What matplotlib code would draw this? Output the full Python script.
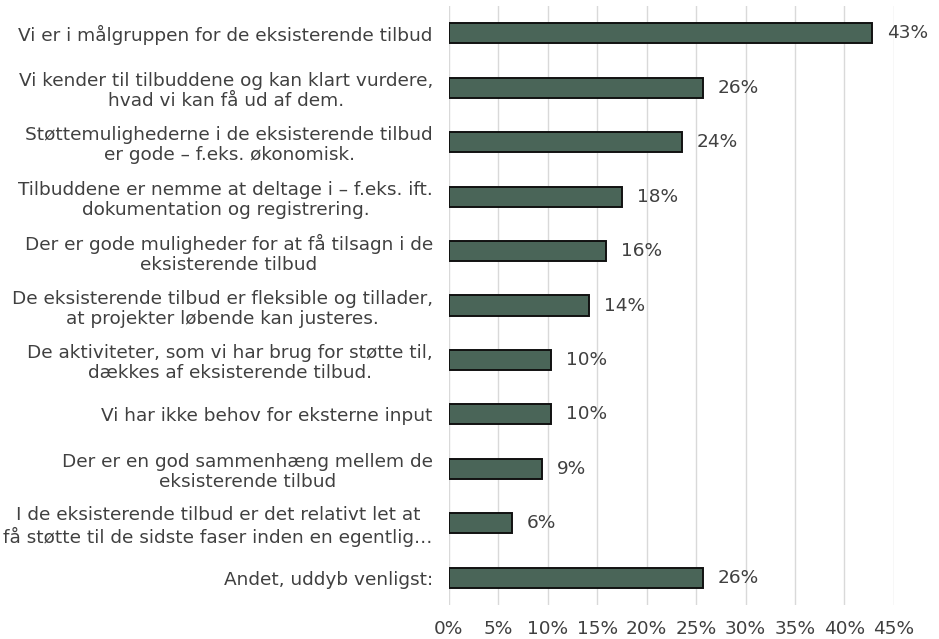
import matplotlib
matplotlib.use("Agg")
import matplotlib.pyplot as plt
from matplotlib.ticker import FuncFormatter, MultipleLocator

categories = [
    "Vi er i målgruppen for de eksisterende tilbud",
    "Vi kender til tilbuddene og kan klart vurdere,\nhvad vi kan få ud af dem.",
    "Støttemulighederne i de eksisterende tilbud\ner gode – f.eks. økonomisk.",
    "Tilbuddene er nemme at deltage i – f.eks. ift.\ndokumentation og registrering.",
    "Der er gode muligheder for at få tilsagn i de\neksisterende tilbud",
    "De eksisterende tilbud er fleksible og tillader,\nat projekter løbende kan justeres.",
    "De aktiviteter, som vi har brug for støtte til,\ndækkes af eksisterende tilbud.",
    "Vi har ikke behov for eksterne input",
    "Der er en god sammenhæng mellem de\neksisterende tilbud",
    "I de eksisterende tilbud er det relativt let at\nfå støtte til de sidste faser inden en egentlig…",
    "Andet, uddyb venligst:",
]
values = [42.8, 25.7, 23.6, 17.5, 15.9, 14.2, 10.3, 10.3, 9.4, 6.4, 25.7]

text_color = "#404040"
bar_color = "#4a6558"
fs = 13.3

fig = plt.figure(figsize=(9.39, 6.39), dpi=100)
ax = fig.add_axes([0.478, 0.0532, 0.474, 0.9374])

y = list(range(len(categories)))
ax.barh(y, values, height=0.37, color=bar_color, edgecolor="#111111", linewidth=1.4, zorder=3)
for yi, v in zip(y, values):
    ax.text(v + 1.5, yi, f"{round(v):.0f}%", va="center", ha="left",
            fontsize=fs, color=text_color)

ax.set_xlim(0, 45)
ax.set_ylim(len(categories) - 0.5, -0.5)
ax.set_yticks(y)
ax.set_yticklabels(categories, fontsize=fs, color=text_color, multialignment="center",
                   linespacing=1.15)
ax.xaxis.set_major_locator(MultipleLocator(5))
ax.xaxis.set_major_formatter(FuncFormatter(lambda x, p: f"{x:.0f}%"))
ax.tick_params(axis="x", length=0, pad=11, labelsize=fs, labelcolor=text_color)
ax.tick_params(axis="y", length=0, pad=11.5)
ax.grid(axis="x", color="#d9d9d9", linewidth=1.0, zorder=0)
for s in ax.spines.values():
    s.set_visible(False)

fig.savefig("out.png", dpi=100)
